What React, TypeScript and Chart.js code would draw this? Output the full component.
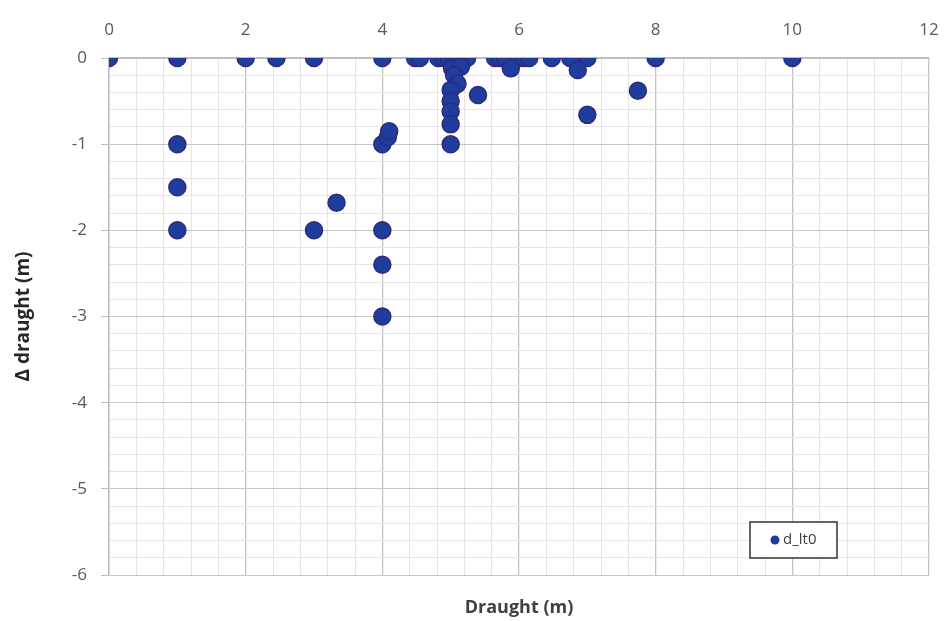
import React, { useEffect, useRef } from "react";
import { Chart, registerables } from "chart.js";

Chart.register(...registerables);

// Draught (m) of each observation
const draught: number[] = [
  0, 1, 2, 2.45, 3, 4, 4.48, 4.55, 4.82, 4.9, 4.97, 5.05, 5.12, 5.24,
  5.65, 5.72, 5.8, 6.0, 6.08, 6.15, 6.48, 6.75, 7.0, 8.0, 10.0,
  1, 1, 1, 3, 3.33, 4, 4.08, 4.1, 4, 4, 4,
  5.02, 5.15, 5.05, 5.1, 5.0, 5.0, 5.0, 5.0, 5.0, 5.4, 5.88, 6.86, 7.0, 7.74,
];
// Δ draught (m) of each observation
const deltaDraught: number[] = [
  0, 0, 0, 0, 0, 0, 0, 0, 0, 0, 0, 0, 0, 0,
  0, 0, 0, 0, 0, 0, 0, 0, 0, 0, 0,
  -1, -1.5, -2, -2, -1.68, -1, -0.92, -0.85, -2, -2.4, -3,
  -0.12, -0.1, -0.2, -0.3, -0.37, -0.5, -0.62, -0.77, -1.0, -0.43, -0.12, -0.14, -0.66, -0.38,
];
const seriesName = "d_lt0";
const xTitle = "Draught (m)";
const yTitle = "Δ draught (m)";
const xMin = 0, xMax = 12, xMajor = 2, xMinor = 0.4;
const yMin = -6, yMax = 0, yMajor = 1, yMinor = 0.2;

const FONT = "'Open Sans', Lato, sans-serif";
const isMajor = (v: number, step: number) => Math.abs(v / step - Math.round(v / step)) < 1e-6;

const legendPlugin = {
  id: "boxLegend",
  afterDraw(chart: any) {
    const { ctx, chartArea } = chart;
    const x = chartArea.right - 179;
    const y = chartArea.bottom - 53;
    const w = 87, h = 36;
    ctx.save();
    ctx.fillStyle = "#ffffff";
    ctx.fillRect(x, y, w, h);
    ctx.strokeStyle = "#333333";
    ctx.lineWidth = 1.5;
    ctx.strokeRect(x, y, w, h);
    ctx.beginPath();
    ctx.arc(x + 25, y + 18, 4.5, 0, Math.PI * 2);
    ctx.fillStyle = "#1f3d9c";
    ctx.fill();
    ctx.fillStyle = "#404040";
    ctx.font = `15px ${FONT}`;
    ctx.textBaseline = "middle";
    ctx.textAlign = "left";
    ctx.fillText(seriesName, x + 33, y + 18);
    ctx.restore();
  },
};

export default function App() {
  const ref = useRef<HTMLCanvasElement | null>(null);
  useEffect(() => {
    if (!ref.current) return;
    const points = draught.map((x, i) => ({ x, y: deltaDraught[i] }));
    const chart = new Chart(ref.current, {
      type: "scatter",
      data: {
        datasets: [
          {
            label: seriesName,
            data: points,
            pointRadius: 8.5,
            pointHoverRadius: 8.5,
            backgroundColor: "#1f3d9c",
            borderColor: "#2e2a7e",
            borderWidth: 1.5,
          },
        ],
      },
      options: {
        animation: false,
        responsive: false,
        devicePixelRatio: 1,
        layout: { padding: { left: 0, right: 15, top: 0, bottom: 0 } },
        plugins: { legend: { display: false }, tooltip: { enabled: false } },
        scales: {
          x: {
            type: "linear",
            position: "top",
            min: xMin,
            max: xMax,
            afterFit: (s: any) => { s.height = 58; s.paddingLeft = 0; s.paddingRight = 0; },
            ticks: {
              stepSize: xMinor,
              autoSkip: false,
              maxRotation: 0,
              padding: 18,
              color: "#595959",
              font: { family: FONT, size: 17 },
              callback: (v: any) => (isMajor(Number(v), xMajor) ? String(Math.round(Number(v))) : ""),
            },
            grid: {
              drawTicks: false,
              color: (c: any) => (c.tick && isMajor(c.tick.value, xMajor) ? "#c4c4c4" : "#e6e6e6"),
              lineWidth: (c: any) => (c.tick && isMajor(c.tick.value, xMajor) ? 1.3 : 1),
            },
            border: { display: true, color: "#bdbdbd", width: 1.5 },
          },
          x2: {
            type: "linear",
            position: "bottom",
            min: xMin,
            max: xMax,
            afterFit: (s: any) => { s.height = 46; s.paddingLeft = 0; s.paddingRight = 0; },
            ticks: { display: false },
            grid: { display: false, drawTicks: false },
            border: { display: false },
            title: {
              display: true,
              text: xTitle,
              color: "#404040",
              font: { family: FONT, size: 18, weight: "bold" },
              padding: { top: 0, bottom: 2 },
            },
          },
          y: {
            type: "linear",
            position: "left",
            min: yMin,
            max: yMax,
            afterFit: (s: any) => { s.width = 109; },
            ticks: {
              stepSize: yMinor,
              autoSkip: false,
              padding: 14,
              color: "#595959",
              font: { family: FONT, size: 17 },
              callback: (v: any) => (isMajor(Number(v), yMajor) ? String(Math.round(Number(v))) : ""),
            },
            grid: {
              tickLength: 8,
              color: (c: any) => (c.tick && isMajor(c.tick.value, yMajor) ? "#c8c8c8" : "#e6e6e6"),
              tickColor: (c: any) => (c.tick && isMajor(c.tick.value, yMajor) ? "#bdbdbd" : "rgba(0,0,0,0)"),
            },
            border: { display: true, color: "#bdbdbd", width: 1.5 },
            title: {
              display: true,
              text: yTitle,
              color: "#262626",
              font: { family: FONT, size: 19, weight: "bold" },
              padding: { top: 12, bottom: 0 },
            },
          },
        },
      },
      plugins: [legendPlugin],
    } as any);
    return () => chart.destroy();
  }, []);
  return (
    <div style={{ position: "absolute", left: 0, top: 0, width: 944, height: 621, background: "#fff" }}>
      <canvas ref={ref} width={944} height={621} />
    </div>
  );
}
